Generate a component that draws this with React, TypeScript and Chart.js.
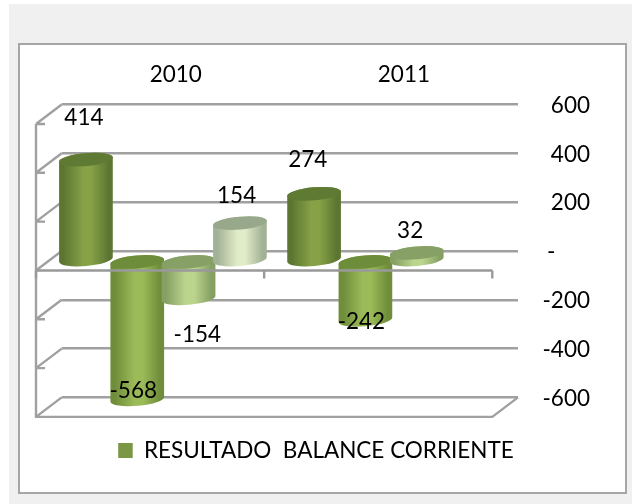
import React, { useEffect, useRef } from "react";
import { Chart, registerables } from "chart.js";

Chart.register(...registerables);

const categories = ["2010", "2011"];
const seriesNames = ["RESULTADO  BALANCE CORRIENTE", "", "", ""];
const seriesA = [414, 274];
const seriesB = [-568, -242];
const seriesC = [-154, 32];
const seriesD = [154, null];
const yTicks = [600, 400, 200, 0, -200, -400, -600];
const zeroTickLabel = "-      ";

const FONT = "Lato";
const FONT_SIZE = 22.5;
const DEPTH_X = -25.7;
const DEPTH_Y = 19.5;
const TILT = (-5 * Math.PI) / 180;
const LINE = "#a0a0a0";
const LINE_WIDTH = 2.4;

const barStyles = [
  { edge: "#5c7632", mid: "#86a146", cap: "#5f7a33", solid: "#7b9645" },
  { edge: "#6f8d3a", mid: "#9bbb59", cap: "#6e8d3a", solid: "#9bbb59" },
  { edge: "#86a064", mid: "#bcd58e", cap: "#86a066", solid: "#bcd58e" },
  { edge: "#a3b296", mid: "#e0ebc7", cap: "#98a88a", solid: "#e0ebc7" },
];

// label displacement from the bar's value end, per series and category
const labelNudge = [
  [[-2, -42], [-6.3, -34]],
  [[-4, -9], [-4, 1.5]],
  [[8.7, 36], [-6.6, -22]],
  [[-3.3, -27], [0, 0]],
];

const cylinders = {
  id: "cylinders",
  afterLayout(chart: any) {
    const l = chart.legend;
    if (l) {
      l.left = 0;
      l.right = 632;
      l.top = 439.25;
      l.bottom = 461.75;
    }
  },
  beforeDatasetsDraw(chart: any) {
    const { ctx, chartArea: a } = chart;
    const y = chart.scales.y;
    ctx.save();
    ctx.strokeStyle = LINE;
    ctx.lineWidth = LINE_WIDTH;
    const fl = a.left + DEPTH_X;
    const fr = a.right + DEPTH_X;
    ctx.beginPath();
    for (const v of yTicks) {
      const p = y.getPixelForValue(v);
      ctx.moveTo(a.left, p);
      ctx.lineTo(fl, p + DEPTH_Y);
      if (v !== 0 && v !== -600) {
        ctx.moveTo(fl, p + DEPTH_Y);
        ctx.lineTo(fl + 9, p + DEPTH_Y);
      }
    }
    const yTop = y.getPixelForValue(600) + DEPTH_Y;
    const yBot = y.getPixelForValue(-600) + DEPTH_Y;
    ctx.moveTo(fl, yTop);
    ctx.lineTo(fl, yBot);
    ctx.lineTo(fr, yBot);
    ctx.lineTo(a.right, y.getPixelForValue(-600));
    ctx.stroke();
    ctx.restore();

    // cylinders, left to right
    const dx = DEPTH_X / 2;
    const dy = DEPTH_Y / 2;
    categories.forEach((_, ci) => {
      chart.data.datasets.forEach((__: any, si: number) => {
        const el = chart.getDatasetMeta(si).data[ci];
        const val = chart.data.datasets[si].data[ci];
        if (!el || val === null) return;
        const s = barStyles[si];
        const cx = el.x + dx;
        const rx = el.width * 0.525;
        const ry = 6.5;
        const top = Math.min(el.y, el.base) + dy;
        const bottom = Math.max(el.y, el.base) + dy;
        const g = ctx.createLinearGradient(cx - rx, 0, cx + rx, 0);
        g.addColorStop(0, s.edge);
        g.addColorStop(0.08, s.edge);
        g.addColorStop(0.45, s.mid);
        g.addColorStop(0.6, s.mid);
        g.addColorStop(0.92, s.edge);
        g.addColorStop(1, s.edge);
        ctx.save();
        ctx.fillStyle = g;
        ctx.beginPath();
        ctx.ellipse(cx, bottom, rx, ry, TILT, 0, Math.PI);
        ctx.ellipse(cx, top, rx, ry, TILT, Math.PI, 0);
        ctx.closePath();
        ctx.fill();
        ctx.fillStyle = s.cap;
        ctx.beginPath();
        ctx.ellipse(cx, top, rx, ry, TILT, 0, Math.PI * 2);
        ctx.fill();
        ctx.restore();
      });
    });

    // front line at zero, over the cylinders
    const zero = y.getPixelForValue(0) + DEPTH_Y;
    ctx.save();
    ctx.strokeStyle = "#999999";
    ctx.lineWidth = LINE_WIDTH;
    ctx.beginPath();
    ctx.moveTo(fl, zero);
    ctx.lineTo(fr, zero);
    for (let i = 0; i <= categories.length; i++) {
      const tx = fl + ((fr - fl) * i) / categories.length;
      ctx.moveTo(tx, zero);
      ctx.lineTo(tx, zero + 8);
    }
    ctx.stroke();
    ctx.restore();

    // value labels
    ctx.save();
    ctx.fillStyle = "#000";
    ctx.font = `${FONT_SIZE}px ${FONT}`;
    ctx.textAlign = "center";
    ctx.textBaseline = "middle";
    chart.data.datasets.forEach((ds: any, si: number) => {
      ds.data.forEach((val: number | null, ci: number) => {
        if (val === null) return;
        const el = chart.getDatasetMeta(si).data[ci];
        const [nx, ny] = labelNudge[si][ci];
        ctx.fillText(String(val), el.x + dx + nx, el.y + dy + ny);
      });
    });
    ctx.restore();
    return false;
  },
};

export default function App() {
  const ref = useRef<HTMLCanvasElement>(null);
  useEffect(() => {
    const sets = [seriesA, seriesB, seriesC, seriesD];
    const chart = new Chart(ref.current as HTMLCanvasElement, {
      type: "bar",
      data: {
        labels: categories,
        datasets: sets.map((data, i) => ({
          label: seriesNames[i],
          data,
          backgroundColor: barStyles[i].solid,
          categoryPercentage: 0.9,
          barPercentage: 1,
        })),
      },
      options: {
        responsive: false,
        animation: false,
        layout: { autoPadding: false, padding: { left: 61.7, top: 0, right: 42, bottom: 74.1 } },
        plugins: {
          tooltip: { enabled: false },
          legend: {
            position: "bottom",
            labels: {
              color: "#000",
              boxWidth: 14.5,
              boxHeight: 15,
              padding: 0,
              font: { family: FONT, size: FONT_SIZE },
              filter: (item: any) => item.text !== "",
            },
          },
        },
        scales: {
          x: {
            position: "top",
            grid: { display: false },
            border: { display: false },
            ticks: { color: "#000", padding: 8.5, maxRotation: 0, font: { family: FONT, size: FONT_SIZE } },
            afterFit: (s: any) => {
              s.height = 104.5;
            },
          },
          y: {
            position: "right",
            min: -600,
            max: 600,
            afterBuildTicks: (s: any) => {
              s.ticks = yTicks.map((value) => ({ value }));
            },
            grid: { color: LINE, lineWidth: LINE_WIDTH, drawTicks: false, tickLength: 0 },
            border: { display: false },
            ticks: {
              color: "#000",
              padding: 25,
              labelOffset: 1,
              crossAlign: "far",
              font: { family: FONT, size: FONT_SIZE },
              callback: (v: any) => (v === 0 ? zeroTickLabel : String(v)),
            },
            afterFit: (s: any) => {
              s.width = 72;
            },
          },
        },
      },
      plugins: [cylinders],
    } as any);
    return () => chart.destroy();
  }, []);

  return (
    <div style={{ position: "absolute", left: 0, top: 0, width: 632, height: 504, overflow: "hidden", background: "#fff" }}>
      <div style={{ position: "absolute", left: 9, top: 4, width: 623, height: 500, background: "#f0f0f0" }} />
      <div style={{ position: "absolute", left: 18, top: 43, width: 605, height: 447, background: "#fff", border: "2px solid #a6a6a6" }} />
      <canvas ref={ref} width={632} height={504} style={{ position: "absolute", left: 0, top: 0, display: "block" }} />
    </div>
  );
}
